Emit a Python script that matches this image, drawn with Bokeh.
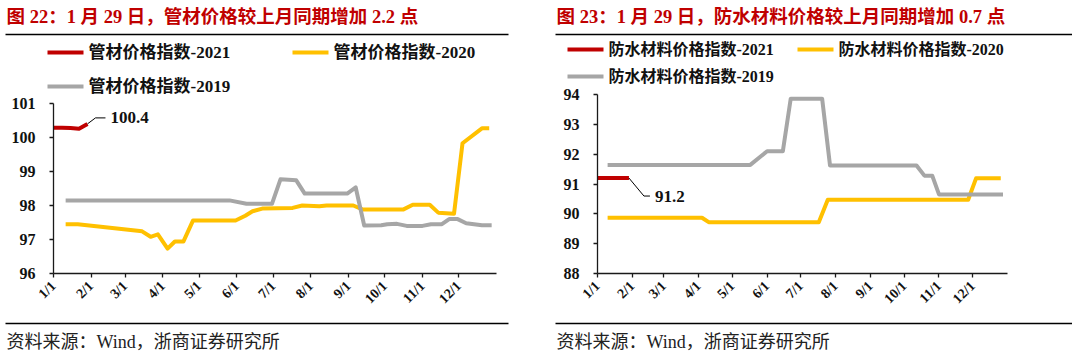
import pandas as pd
from bokeh.plotting import figure
from bokeh.layouts import row, column
from bokeh.models import Label, FixedTicker, Range1d
from bokeh.embed import file_html
from bokeh.resources import INLINE

# ---------------- data ----------------
month_ticks = ["01-01", "02-01", "03-01", "04-01", "05-01", "06-01",
               "07-01", "08-01", "09-01", "10-01", "11-01", "12-01"]
month_labels = ["1/1", "2/1", "3/1", "4/1", "5/1", "6/1",
                "7/1", "8/1", "9/1", "10/1", "11/1", "12/1"]

# 管材价格指数
pipe_2021_dates = ["01-01", "01-08", "01-15", "01-22", "01-29"]
pipe_2021_vals = [100.29, 100.29, 100.28, 100.26, 100.40]
pipe_2020_dates = ["01-11", "01-21", "03-15", "03-22", "03-28", "04-05", "04-11", "04-18",
                   "04-26", "05-31", "06-08", "06-14", "06-22", "07-17", "07-25", "08-08",
                   "08-14", "09-05", "09-13", "10-16", "10-24", "11-07", "11-14", "11-27",
                   "12-04", "12-20", "12-26"]
pipe_2020_vals = [97.45, 97.45, 97.24, 97.08, 97.15, 96.73, 96.94, 96.94,
                  97.56, 97.56, 97.70, 97.83, 97.91, 97.93, 98.00, 97.98,
                  98.00, 98.00, 97.88, 97.88, 98.02, 98.02, 97.79, 97.76,
                  99.83, 100.27, 100.27]
pipe_2019_dates = ["01-11", "05-26", "06-09", "06-30", "07-07", "07-20", "07-27", "08-31",
                   "09-07", "09-14", "09-28", "10-03", "10-11", "10-19", "11-01", "11-08",
                   "11-17", "11-23", "11-30", "12-07", "12-20", "12-28"]
pipe_2019_vals = [98.15, 98.15, 98.05, 98.05, 98.77, 98.74, 98.35, 98.35,
                  98.53, 97.41, 97.42, 97.45, 97.46, 97.40, 97.40, 97.45,
                  97.45, 97.60, 97.60, 97.48, 97.42, 97.42]

# 防水材料价格指数
wp_2021_dates = ["01-01", "01-08", "01-15", "01-22", "01-29"]
wp_2021_vals = [91.2, 91.2, 91.2, 91.2, 91.2]
wp_2020_dates = ["01-10", "04-04", "04-10", "07-17", "07-25", "11-27", "12-04", "12-26"]
wp_2020_vals = [89.87, 89.87, 89.72, 89.72, 90.47, 90.47, 91.19, 91.19]
wp_2019_dates = ["01-10", "05-17", "06-01", "06-15", "06-22", "07-20", "07-27", "10-12",
                 "10-19", "10-26", "11-01", "12-28"]
wp_2019_vals = [91.64, 91.64, 92.10, 92.10, 93.86, 93.86, 91.62, 91.62,
                91.28, 91.28, 90.65, 90.65]

series_years = ["2021", "2020", "2019"]
source_text = "资料来源：Wind，浙商证券研究所"

RED = "#C00000"
YELLOW = "#FFC000"
GRAY = "#A6A6A6"
COLORS = [RED, YELLOW, GRAY]
SERIF_CJK = "Liberation Serif, Noto Sans CJK SC"


def doy(dates):
    return [pd.Timestamp("2021-" + d).dayofyear - 1 for d in dates]


def blank(W, H):
    p = figure(width=W, height=H, output_backend="svg", toolbar_location=None,
               x_range=Range1d(0, W), y_range=Range1d(H, 0),
               x_axis_location=None, y_axis_location=None, frame_align=False,
               min_border_left=0, min_border_right=0, min_border_top=0, min_border_bottom=0)
    p.outline_line_color = None
    p.grid.visible = False
    p.background_fill_color = "white"
    p.border_fill_color = "white"
    return p


def header(cfg):
    W, H = cfg["W"], cfg["hh"]
    p = blank(W, H)
    p.add_layout(Label(x=cfg["tx"], y=16, text=cfg["title"], text_font=SERIF_CJK,
                       text_font_style="bold", text_font_size="18.5px", text_color=RED,
                       text_baseline="middle"))
    p.segment(x0=[cfg["rx0"]], y0=[34], x1=[cfg["rx1"]], y1=[34], line_color="black", line_width=1.3)
    for yr, col, (lx, ly) in zip(series_years, COLORS, cfg["leg"]):
        p.segment(x0=[lx], y0=[ly], x1=[lx + 36], y1=[ly], line_color=col, line_width=4)
        p.add_layout(Label(x=lx + 41, y=ly, text=cfg["name"] + "-" + yr, text_font=SERIF_CJK,
                           text_font_style="bold", text_font_size=cfg["lfs"],
                           text_color="#111111", text_baseline="middle"))
    return p


def footer(cfg):
    W, H = cfg["W"], 37
    p = blank(W, H)
    p.segment(x0=[cfg["rx0"]], y0=[5], x1=[cfg["rx1"]], y1=[5], line_color="black", line_width=1.3)
    p.add_layout(Label(x=cfg["tx"], y=23, text=source_text, text_font=SERIF_CJK,
                       text_font_size="18px", text_color="#222222", text_baseline="middle"))
    return p


def chart(cfg):
    W = cfg["W"]
    H = 8 + cfg["fh"] + 45
    p = figure(width=W, height=H, output_backend="svg", toolbar_location=None,
               x_range=Range1d(0, 365), y_range=Range1d(cfg["ymin"], cfg["ymax"]),
               frame_align=False,
               min_border_left=cfg["bl"], min_border_right=W - cfg["bl"] - cfg["fw"],
               min_border_top=8, min_border_bottom=45)
    p.outline_line_color = None
    p.grid.visible = False
    p.background_fill_color = "white"
    p.border_fill_color = "white"

    xa = p.xaxis[0]
    xa.ticker = FixedTicker(ticks=doy(month_ticks))
    xa.major_label_overrides = {t: l for t, l in zip(doy(month_ticks), month_labels)}
    xa.major_label_orientation = 0.7854
    xa.major_label_text_font_size = "14px"
    xa.major_label_standoff = 6
    ya = p.yaxis[0]
    ya.ticker = FixedTicker(ticks=list(range(int(cfg["ymin"]), int(cfg["ymax"]) + 1)))
    ya.major_label_text_font_size = cfg["yfs"]
    ya.major_label_standoff = 14
    for a in (xa, ya):
        a.major_label_text_font = "Liberation Serif"
        a.major_label_text_font_style = "bold"
        a.major_tick_in = 0
        a.major_tick_out = 4
        a.minor_tick_line_color = None
        a.axis_line_color = "#1a1a1a"
        a.axis_line_width = 1.3
        a.major_tick_line_color = "#1a1a1a"
        a.major_tick_line_width = 1.3
        a.major_label_text_color = "#111111"

    p.line(doy(cfg["d20"]), cfg["v20"], line_color=YELLOW, line_width=4, line_join="round")
    p.line(doy(cfg["d19"]), cfg["v19"], line_color=GRAY, line_width=4, line_join="round")
    p.line(doy(cfg["d21"]), cfg["v21"], line_color=RED, line_width=4, line_join="round")

    # annotation of latest value
    ax = doy(cfg["d21"])[-1]
    ay = cfg["v21"][-1]
    pxx = 365.0 / cfg["fw"]
    pxy = (cfg["ymax"] - cfg["ymin"]) / cfg["fh"]
    l1, l2, ldy = cfg["lead"]
    p.line([ax, ax + l1 * pxx, ax + l2 * pxx], [ay, ay + ldy * pxy, ay + ldy * pxy],
           line_color="black", line_width=1)
    p.add_layout(Label(x=ax, y=ay, x_offset=l2 + 5, y_offset=ldy, text=f"{ay:.1f}",
                       text_font="Liberation Serif", text_font_style="bold",
                       text_font_size="17px", text_baseline="middle", text_color="#111111"))
    return p


cfg_left = dict(
    W=540, hh=95, ymin=96, ymax=101, bl=53, fw=443, fh=170, yfs="16px", lfs="17px",
    d21=pipe_2021_dates, v21=pipe_2021_vals, d20=pipe_2020_dates, v20=pipe_2020_vals,
    d19=pipe_2019_dates, v19=pipe_2019_vals, name="管材价格指数",
    lead=(8, 18, 6), leg=[(47, 52), (292, 52), (47, 86)],
    title="图 22：1 月 29 日，管材价格较上月同期增加 2.2 点", tx=6, rx0=5, rx1=508)

cfg_right = dict(
    W=532, hh=86, ymin=88, ymax=94, bl=57, fw=410, fh=179, yfs="16px", lfs="16px",
    d21=wp_2021_dates, v21=wp_2021_vals, d20=wp_2020_dates, v20=wp_2020_vals,
    d19=wp_2019_dates, v19=wp_2019_vals, name="防水材料价格指数",
    lead=(15, 21, -18), leg=[(27, 49), (257, 49), (27, 76)],
    title="图 23：1 月 29 日，防水材料价格较上月同期增加 0.7 点", tx=16, rx0=15, rx1=532)

panels = [column(header(c), chart(c), footer(c)) for c in (cfg_left, cfg_right)]
layout = row(*panels)
open("out.html", "w").write(file_html(layout, INLINE))
